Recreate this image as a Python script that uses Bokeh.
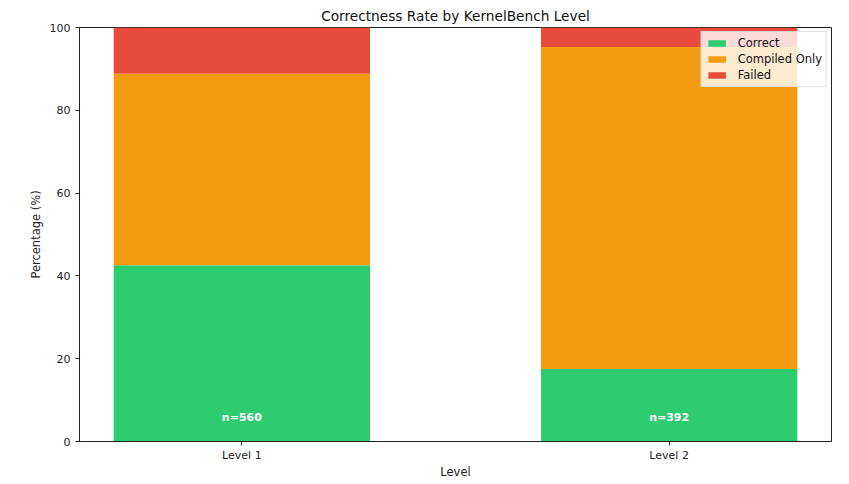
from bokeh.plotting import figure
from bokeh.models import ColumnDataSource, FixedTicker, Legend
from bokeh.core.properties import value
from bokeh.embed import file_html
from bokeh.resources import INLINE

# values (percent of runs per level)
levels = ["Level 1", "Level 2"]
counts = [560, 392]
correct = [42.6, 17.5]
compiled_only = [46.2, 77.8]
failed = [11.2, 4.7]

statuses = ["correct", "compiled_only", "failed"]
status_labels = ["Correct", "Compiled Only", "Failed"]
colors = ["#2ecc71", "#f39c12", "#e74c3c"]

FONT = "DejaVu Sans"

xs = list(range(len(levels)))
source = ColumnDataSource(dict(
    x=xs,
    correct=correct,
    compiled_only=compiled_only,
    failed=failed,
    label_y=[5.8] * len(levels),
    n_text=[f"n={n}" for n in counts],
))

p = figure(width=841, height=481, x_range=(-0.38, 1.38), y_range=(0, 100),
           output_backend="svg", toolbar_location=None,
           title="Correctness Rate by KernelBench Level",
           x_axis_label="Level", y_axis_label="Percentage (%)",
           min_border_left=79, min_border_right=10,
           min_border_top=27, min_border_bottom=37)

p.title.align = "center"
p.title.text_font = FONT
p.title.text_font_size = "13.7px"
p.title.text_font_style = "normal"
p.title.text_color = "#111111"
p.title.offset = 0
p.title.standoff = 8

renderers = p.vbar_stack(statuses, x="x", width=0.6, source=source,
                         color=colors, line_width=0)

p.text(x="x", y="label_y", text="n_text", source=source,
       text_font=value(FONT), text_font_size="11px", text_font_style="bold",
       text_color="white", text_align="center", text_baseline="middle")

legend = Legend(items=[(lab, [r]) for lab, r in zip(status_labels, renderers)],
                location="top_right")
legend.label_text_font = FONT
legend.label_text_font_size = "11.5px"
legend.label_text_color = "#111111"
legend.glyph_width = 22
legend.glyph_height = 8
legend.label_height = 12
legend.label_standoff = 10
legend.spacing = 2
legend.padding = 4
legend.margin = 4
legend.background_fill_alpha = 0.8
legend.border_line_color = "#cccccc"
legend.border_line_width = 1
p.add_layout(legend)

p.xaxis.ticker = FixedTicker(ticks=xs)
p.xaxis.major_label_overrides = {i: lab for i, lab in enumerate(levels)}
p.yaxis.ticker = FixedTicker(ticks=[0, 20, 40, 60, 80, 100])

for ax in (p.xaxis, p.yaxis):
    ax.axis_line_color = "#222222"
    ax.major_tick_line_color = "#222222"
    ax.major_tick_out = 4
    ax.major_tick_in = 0
    ax.minor_tick_line_color = None
    ax.major_label_text_font = FONT
    ax.major_label_text_font_size = "11px"
    ax.major_label_text_color = "#222222"
    ax.axis_label_text_font = FONT
    ax.axis_label_text_font_size = "11.5px"
    ax.axis_label_text_font_style = "normal"
    ax.axis_label_text_color = "#222222"

p.xaxis.major_label_standoff = 3
p.xaxis.axis_label_standoff = 0
p.yaxis.axis_label_standoff = 4
p.xgrid.grid_line_color = None
p.ygrid.grid_line_color = None
p.outline_line_color = "#222222"
p.outline_line_alpha = 1

open("out.html", "w").write(file_html(p, INLINE))
